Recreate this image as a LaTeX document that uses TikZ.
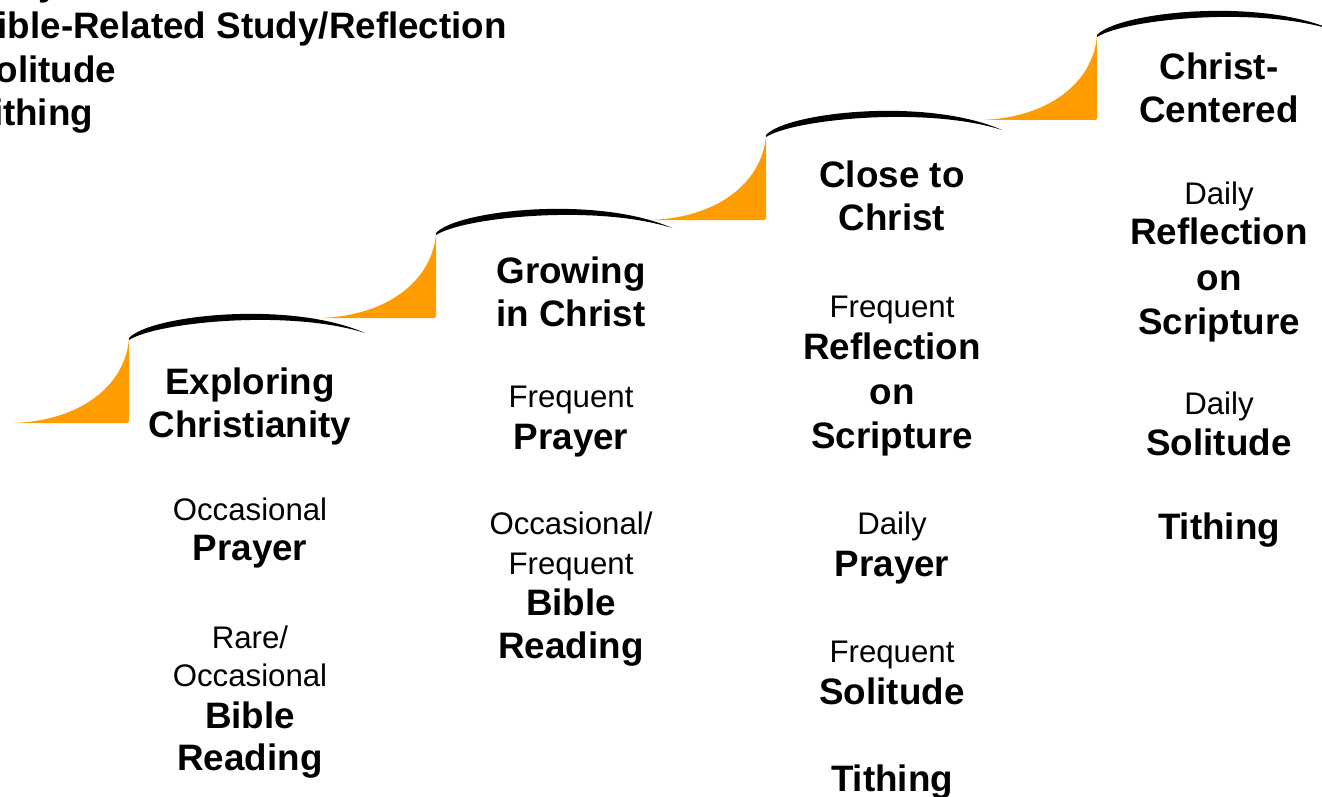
\documentclass[tikz,border=0pt]{standalone}
\usepackage{fontspec}
\setmainfont{Liberation Sans}
\definecolor{steporange}{HTML}{FF9C00}
\begin{document}
\begin{tikzpicture}[x=1pt,y=-1pt,
  bt/.style={font=\fontsize{36.8}{43}\selectfont\bfseries, anchor=base, inner sep=0pt, yshift=-3pt},
  rt/.style={font=\fontsize{31.2}{38}\selectfont, anchor=base, inner sep=0pt, yshift=-3pt},
  lt/.style={font=\fontsize{36.8}{43}\selectfont\bfseries, anchor=base west, inner sep=0pt},
  stair/.pic={
    \fill[steporange] (0,0) -- (0,83) [rounded corners=2pt] -- (0,85) -- (-116,85) [sharp corners] .. controls (-45,82) and (-3,45) .. (0,0) -- cycle;
    \fill[black] (0,0) .. controls (21,-23) and (161,-38) .. (236,-5) .. controls (161,-29) and (28,-16) .. (0,2) -- cycle;
  }]
\useasboundingbox (0,0) rectangle (1322,797);
\clip (0,0) rectangle (1322,797);
\fill[white] (0,0) rectangle (1322,797);

% stairs
\pic (s1) at (129,338) {stair};
\pic (s2) at (436,233) {stair};
\pic (s3) at (766,135) {stair};
\pic (s4) at (1097,35) {stair};

% cut-off text at top left (cut by the picture's edge, as in the reference)
\node[lt] (t0) at (-29,-4) {Daily};
\node[lt] (t1) at (-29,39) {Bible-Related Study/Reflection};
\node[lt] (t2) at (-29,83) {Solitude};
\node[lt] (t3) at (-29,125) {Tithing};

% column 1
\node[bt] (a1) at (250,391) {Exploring};
\node[bt] (a2) at (250,434) {Christianity};
\node[rt] (a3) at (250,517) {Occasional};
\node[bt] (a4) at (250,557) {Prayer};
\node[rt] (a5) at (250,645) {Rare/};
\node[rt] (a6) at (250,683) {Occasional};
\node[bt] (a7) at (250,725) {Bible};
\node[bt] (a8) at (250,767) {Reading};

% column 2
\node[bt] (b1) at (571,280) {Growing};
\node[bt] (b2) at (571,323) {in Christ};
\node[rt] (b3) at (571,404) {Frequent};
\node[bt] (b4) at (571,446) {Prayer};
\node[rt] (b5) at (571,531) {Occasional/};
\node[rt] (b6) at (571,571) {Frequent};
\node[bt] (b7) at (571,612) {Bible};
\node[bt] (b8) at (571,655) {Reading};

% column 3
\node[bt] (c1) at (892,184) {Close to};
\node[bt] (c2) at (892,227) {Christ};
\node[rt] (c3) at (892,314) {Frequent};
\node[bt] (c4) at (892,356) {Reflection};
\node[bt] (c5) at (892,401) {on};
\node[bt] (c6) at (892,445) {Scripture};
\node[rt] (c7) at (892,531) {Daily};
\node[bt] (c8) at (892,573) {Prayer};
\node[rt] (c9) at (892,659) {Frequent};
\node[bt] (c10) at (892,701) {Solitude};
\node[bt] (c11) at (892,788) {Tithing};

% column 4
\node[bt] (d1) at (1219,77) {Christ-};
\node[bt] (d2) at (1219,120) {Centered};
\node[rt] (d3) at (1219,201) {Daily};
\node[bt] (d4) at (1219,241) {Reflection};
\node[bt] (d5) at (1219,287) {on};
\node[bt] (d6) at (1219,331) {Scripture};
\node[rt] (d7) at (1219,411) {Daily};
\node[bt] (d8) at (1219,452) {Solitude};
\node[bt] (d9) at (1219,536) {Tithing};
\end{tikzpicture}
\end{document}
